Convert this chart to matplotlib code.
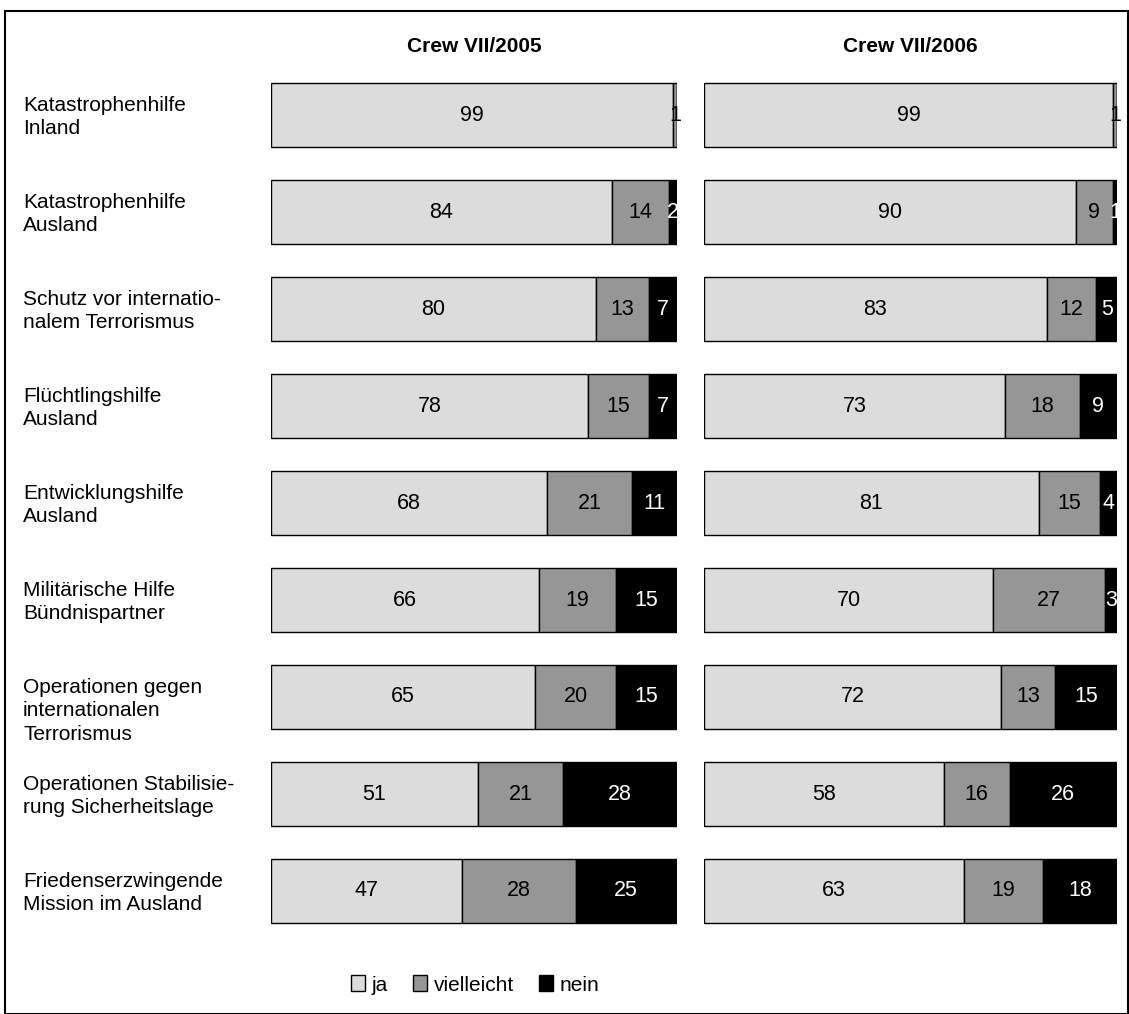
import matplotlib
matplotlib.use("Agg")
import matplotlib.pyplot as plt
from matplotlib.patches import Rectangle, Patch
import matplotlib.transforms as mtransforms

plt.rcParams['font.family'] = ['Liberation Sans', 'DejaVu Sans']

categories = [
    "Katastrophenhilfe\nInland",
    "Katastrophenhilfe\nAusland",
    "Schutz vor internatio-\nnalem Terrorismus",
    "Flüchtlingshilfe\nAusland",
    "Entwicklungshilfe\nAusland",
    "Militärische Hilfe\nBündnispartner",
    "Operationen gegen\ninternationalen\nTerrorismus",
    "Operationen Stabilisie-\nrung Sicherheitslage",
    "Friedenserzwingende\nMission im Ausland",
]
titles = ["Crew VII/2005", "Crew VII/2006"]
series_names = ["ja", "vielleicht", "nein"]

ja_2005 = [99, 84, 80, 78, 68, 66, 65, 51, 47]
vielleicht_2005 = [1, 14, 13, 15, 21, 19, 20, 21, 28]
nein_2005 = [0, 2, 7, 7, 11, 15, 15, 28, 25]

ja_2006 = [99, 90, 83, 73, 81, 70, 72, 58, 63]
vielleicht_2006 = [1, 9, 12, 18, 15, 27, 13, 16, 19]
nein_2006 = [0, 1, 5, 9, 4, 3, 15, 26, 18]

colors = ["#DCDCDC", "#969696", "#000000"]
text_colors = ["black", "black", "white"]

fig = plt.figure(figsize=(11.29, 10.14), dpi=100)
W, H = 1129, 1014

# figure border
fig.patches.append(Rectangle((5 / W, 0), (W - 6) / W, 1 - 11 / H, transform=fig.transFigure,
                             fill=False, edgecolor="black", linewidth=1.5))

ax_bottom = 1 - 939.5 / H
ax_height = 873 / H
ax1 = fig.add_axes([271 / W, ax_bottom, 406 / W, ax_height])
ax2 = fig.add_axes([704 / W, ax_bottom, 413 / W, ax_height])

data = [(ja_2005, vielleicht_2005, nein_2005), (ja_2006, vielleicht_2006, nein_2006)]
ypos = list(range(len(categories)))

for ax, series, title in zip([ax1, ax2], data, titles):
    left = [0] * len(categories)
    for vals, col, tcol in zip(series, colors, text_colors):
        ax.barh(ypos, vals, left=left, height=0.65, color=col, edgecolor="black", linewidth=1.0)
        for y, (l, v) in enumerate(zip(left, vals)):
            if v > 0:
                ax.text(l + v / 2, y, str(v), ha="center", va="center", color=tcol, fontsize=15.5)
        left = [a + b for a, b in zip(left, vals)]
    ax.set_xlim(0, 100)
    ax.set_ylim(8.5, -0.5)
    ax.axis("off")
    pos = ax.get_position()
    fig.text((pos.x0 + pos.x1) / 2, 1 - 47 / H, title,
             ha="center", va="center", fontsize=15, fontweight="bold")

trans = mtransforms.blended_transform_factory(fig.transFigure, ax1.transData)
for y, cat in enumerate(categories):
    ax1.text(23 / W, y - 0.2, cat, transform=trans, ha="left", va="top",
             fontsize=15, linespacing=1.3)

handles = [Patch(facecolor=c, edgecolor="black", linewidth=1.0) for c in colors]
fig.legend(handles, series_names, loc="center", bbox_to_anchor=(475 / W, 1 - 985 / H),
           ncol=3, frameon=False, fontsize=15, handlelength=0.7, handleheight=0.8,
           handletextpad=0.3, columnspacing=1.2)

fig.savefig("out.png", dpi=100)
